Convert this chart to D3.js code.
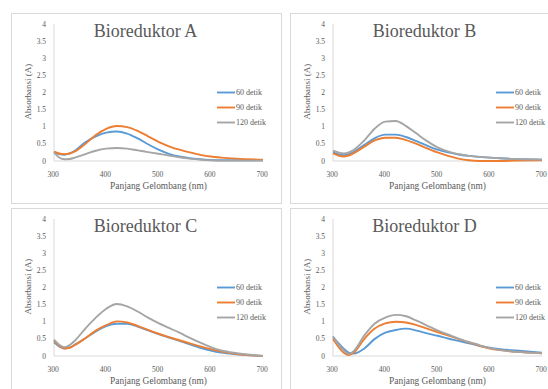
<!DOCTYPE html>
<html>
<head>
<meta charset="utf-8">
<script src="https://cdn.jsdelivr.net/npm/d3@7"></script>
<style>
  body { margin: 0; background: #fff; }
  svg text { font-family: "Liberation Serif", "DejaVu Serif", serif; fill: #595959; }
</style>
</head>
<body>
<svg id="chart" width="548" height="389"></svg>
<script>
// wavelength points (nm) shared by every series
const wavelength = [300, 310, 320, 330, 340, 360, 380, 400, 420, 440, 460, 480, 500, 520, 540, 560, 580, 600, 620, 650, 700];

const panelNames = ["Bioreduktor A", "Bioreduktor B", "Bioreduktor C", "Bioreduktor D"];
const seriesNames = ["60 detik", "90 detik", "120 detik"];
const xTicks = [300, 400, 500, 600, 700];
const yTicks = [0, 0.5, 1, 1.5, 2, 2.5, 3, 3.5, 4];

// absorbance
const a60 = [0.25, 0.2, 0.18, 0.22, 0.3, 0.55, 0.72, 0.83, 0.86, 0.8, 0.66, 0.49, 0.33, 0.21, 0.13, 0.08, 0.05, 0.03, 0.02, 0.02, 0.02];
const a90 = [0.27, 0.22, 0.2, 0.22, 0.28, 0.5, 0.76, 0.94, 1.02, 0.99, 0.88, 0.72, 0.56, 0.43, 0.33, 0.25, 0.18, 0.13, 0.1, 0.07, 0.04];
const a120 = [0.25, 0.1, 0.05, 0.06, 0.1, 0.2, 0.3, 0.36, 0.38, 0.36, 0.31, 0.26, 0.21, 0.16, 0.11, 0.07, 0.04, 0.02, 0.01, 0.01, 0.01];

const b60 = [0.25, 0.2, 0.17, 0.2, 0.27, 0.47, 0.67, 0.77, 0.77, 0.7, 0.58, 0.45, 0.33, 0.25, 0.19, 0.15, 0.12, 0.1, 0.08, 0.06, 0.04];
const b90 = [0.22, 0.16, 0.13, 0.16, 0.23, 0.42, 0.6, 0.68, 0.68, 0.61, 0.5, 0.37, 0.25, 0.15, 0.07, 0.02, 0.0, 0.0, 0.0, 0.01, 0.02];
const b120 = [0.3, 0.25, 0.22, 0.25, 0.33, 0.6, 0.95, 1.15, 1.17, 1.02, 0.8, 0.58, 0.4, 0.28, 0.2, 0.15, 0.12, 0.1, 0.08, 0.06, 0.04];

const c60 = [0.4, 0.28, 0.22, 0.25, 0.33, 0.52, 0.72, 0.87, 0.94, 0.94, 0.86, 0.75, 0.64, 0.54, 0.44, 0.34, 0.24, 0.16, 0.1, 0.05, 0.0];
const c90 = [0.45, 0.3, 0.22, 0.24, 0.32, 0.52, 0.74, 0.9, 1.01, 0.98, 0.88, 0.76, 0.65, 0.55, 0.46, 0.37, 0.28, 0.2, 0.13, 0.06, 0.0];
const c120 = [0.48, 0.33, 0.26, 0.32, 0.45, 0.8, 1.12, 1.38, 1.52, 1.45, 1.3, 1.12, 0.96, 0.82, 0.68, 0.53, 0.39, 0.26, 0.16, 0.08, 0.0];

const d60 = [0.55, 0.38, 0.22, 0.1, 0.07, 0.22, 0.5, 0.68, 0.76, 0.8, 0.74, 0.66, 0.59, 0.51, 0.44, 0.37, 0.3, 0.24, 0.2, 0.16, 0.1];
const d90 = [0.5, 0.28, 0.1, 0.03, 0.1, 0.5, 0.8, 0.95, 1.0, 0.98, 0.9, 0.8, 0.7, 0.6, 0.5, 0.4, 0.3, 0.22, 0.17, 0.12, 0.08];
const d120 = [0.58, 0.35, 0.18, 0.06, 0.15, 0.6, 0.95, 1.12, 1.2, 1.16, 1.03, 0.89, 0.75, 0.63, 0.51, 0.41, 0.32, 0.23, 0.17, 0.12, 0.08];

const panelSeries = [[a60, a90, a120], [b60, b90, b120], [c60, c90, c120], [d60, d90, d120]];
const colors = ["#5B9BD5", "#ED7D31", "#A5A5A5"];

// top-left corner of each panel frame
const origins = [[11, 13], [290, 13], [11, 208], [290, 208]];

const svg = d3.select("#chart");

panelNames.forEach((name, p) => {
  const g = svg.append("g")
    .attr("transform", "translate(" + origins[p][0] + "," + origins[p][1] + ")");

  g.append("rect")
    .attr("x", 0.5).attr("y", 0.5)
    .attr("width", 270).attr("height", 190)
    .attr("fill", "#fff")
    .attr("stroke", "#d9d9d9");

  const x = d3.scaleLinear().domain([300, 700]).range([43, 252]);
  const y = d3.scaleLinear().domain([0, 4]).range([148, 11]);

  // axis lines
  g.append("line")
    .attr("x1", x(300)).attr("x2", x(300))
    .attr("y1", y(4)).attr("y2", y(0))
    .attr("stroke", "#d9d9d9");
  g.append("line")
    .attr("x1", x(300)).attr("x2", x(700))
    .attr("y1", y(0)).attr("y2", y(0))
    .attr("stroke", "#d9d9d9");

  g.selectAll(".ytick")
    .data(yTicks)
    .enter()
    .append("text")
    .attr("x", 35)
    .attr("y", d => y(d) + 2.6)
    .attr("text-anchor", "end")
    .style("font-size", "7.5px")
    .text(d => d);

  g.selectAll(".xtick")
    .data(xTicks)
    .enter()
    .append("text")
    .attr("x", d => x(d) - 1)
    .attr("y", 164)
    .attr("text-anchor", "middle")
    .style("font-size", "7.5px")
    .text(d => d);

  g.append("text")
    .attr("x", 147.5).attr("y", 175.5)
    .attr("text-anchor", "middle")
    .style("font-size", "9.4px")
    .text("Panjang Gelombang (nm)");

  g.append("text")
    .attr("transform", "translate(19.5,78.5) rotate(-90)")
    .attr("text-anchor", "middle")
    .style("font-size", "9px")
    .text("Absorbansi (A)");

  g.append("text")
    .attr("x", 134.5).attr("y", 23.5)
    .attr("text-anchor", "middle")
    .style("font-size", "18px")
    .text(name);

  const line = d3.line()
    .x((d, i) => x(wavelength[i]))
    .y(d => y(d))
    .curve(d3.curveMonotoneX);

  panelSeries[p].forEach((vals, s) => {
    g.append("path")
      .attr("d", line(vals))
      .attr("fill", "none")
      .attr("stroke", colors[s])
      .attr("stroke-width", 1.9);
  });

  // legend
  seriesNames.forEach((label, s) => {
    const ly = 79.5 + s * 15;
    g.append("line")
      .attr("x1", 206).attr("x2", 224)
      .attr("y1", ly).attr("y2", ly)
      .attr("stroke", colors[s])
      .attr("stroke-width", 1.9);
    g.append("text")
      .attr("x", 225).attr("y", ly + 2.8)
      .style("font-size", "8px")
      .text(label);
  });
});
</script>
</body>
</html>
